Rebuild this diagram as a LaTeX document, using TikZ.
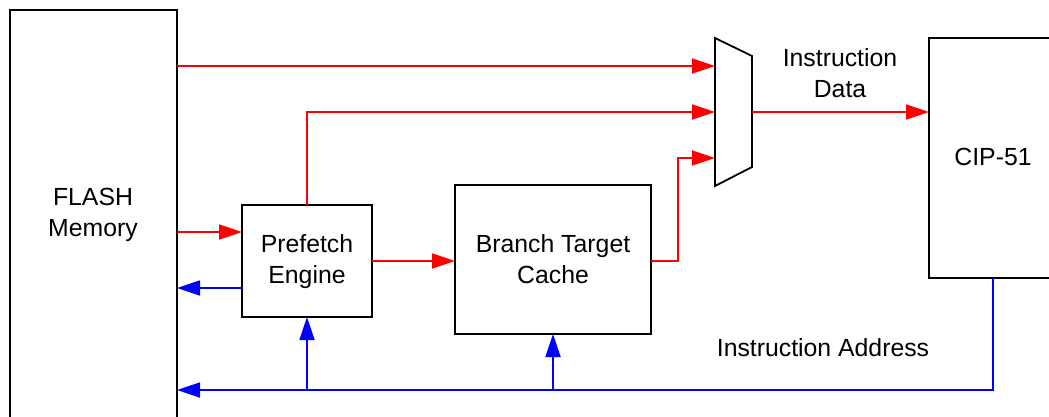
\documentclass[tikz,border=0pt]{standalone}
\usepackage{fontspec}
\setmainfont{Liberation Sans}
\usetikzlibrary{arrows.meta}
\definecolor{sigred}{RGB}{255,0,0}
\definecolor{sigblue}{RGB}{0,0,255}
\tikzset{
  blk/.style={draw=black, line width=1.8pt, fill=white, inner sep=0pt, outer sep=0pt},
  lbl/.style={inner sep=0pt, align=center, font=\fontsize{24.8}{31}\selectfont},
  rline/.style={draw=sigred, line width=1.8pt},
  bline/.style={draw=sigblue, line width=1.8pt},
  arr/.style={-{Triangle[length=23pt,width=15pt]}},
}
\begin{document}
\begin{tikzpicture}[x=1pt,y=-1pt]
\useasboundingbox (0,0) rectangle (1049,417);
\begin{scope}
\clip (0,0) rectangle (1049,417);
% blocks
\node[blk, anchor=north west, minimum width=167pt, minimum height=430pt] (flash) at (10,10) {};
\node[lbl] (flashlbl) at (93,215) {FLASH\\Memory};
\node[blk, anchor=north west, minimum width=130pt, minimum height=112pt] (pe) at (242,205) {};
\node[lbl] (pelbl) at ([yshift=-1pt]pe.center) {Prefetch\\Engine};
\node[blk, anchor=north west, minimum width=196pt, minimum height=149pt] (btc) at (455,185) {};
\node[lbl] (btclbl) at (btc.center) {Branch Target\\Cache};
\node[blk, anchor=north west, minimum width=128pt, minimum height=240pt] (cip) at (929,38) {};
\node[lbl] (ciplbl) at (993,157) {CIP-51};
% mux
\coordinate (mtl) at (715,38);
\coordinate (mtr) at (752,56);
\coordinate (mbr) at (752,167);
\coordinate (mbl) at (715,186);
\draw[line width=1.8pt, fill=white] (mtl) -- (mtr) -- (mbr) -- (mbl) -- cycle;
\coordinate (m1) at (715,66);
\coordinate (m2) at (715,112);
\coordinate (m3) at (715,158);
\coordinate (mo) at (752,112);
\coordinate (bend) at (678,158);
\coordinate (bot) at (993,390);
% labels
\node[lbl] (idata) at (840,73) {Instruction\\Data};
\node[lbl] (iaddr) at (823,348) {Instruction Address};
% red data paths
\draw[rline, arr] (flash.east |- m1) -- (m1);
\draw[rline, arr] (flash.east |- 0,232) -- (pe.west |- 0,232);
\draw[rline, arr] (pe.north) -- (pe.north |- m2) -- (m2);
\draw[rline, arr] (pe.east) -- (btc.west |- pe.east);
\draw[rline, arr] (btc.east |- pe.east) -| (bend) -- (m3);
\draw[rline, arr] (mo) -- (cip.west |- mo);
% blue address paths
\draw[bline, arr] (pe.west |- 0,288) -- (flash.east |- 0,288);
\draw[bline, arr] (cip.south -| bot) -- (bot) -- (flash.east |- bot);
\draw[bline, arr] (pe.south |- bot) -- (pe.south);
\draw[bline, arr] (btc.south |- bot) -- (btc.south);
\end{scope}
\end{tikzpicture}
\end{document}
